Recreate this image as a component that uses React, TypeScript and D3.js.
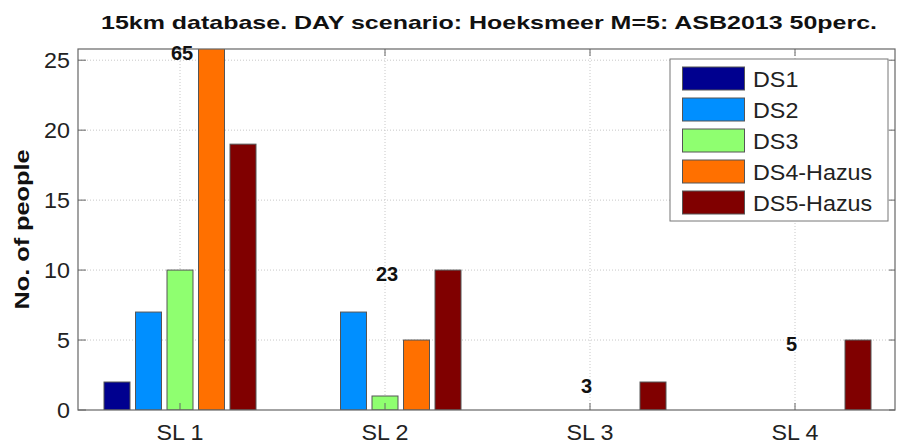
import * as d3 from 'd3';

const categories = ['SL 1', 'SL 2', 'SL 3', 'SL 4'];
const seriesNames = ['DS1', 'DS2', 'DS3', 'DS4-Hazus', 'DS5-Hazus'];
const seriesColors = ['#00008f', '#008fff', '#8fff70', '#ff7000', '#800000'];
const ds1 = [2, 0, 0, 0];
const ds2 = [7, 7, 0, 0];
const ds3 = [10, 1, 0, 0];
const ds4 = [27, 5, 0, 0];
const ds5 = [19, 10, 2, 5];
const totals = [65, 23, 3, 5];
const yTicks = [0, 5, 10, 15, 20, 25];
const yMax = 25.8;

const W = 899;
const H = 448;
const box = { left: 78, right: 895, top: 49, bottom: 410 };
const SX = 1.06; // the source font is a bit wider than Liberation Sans

export default function App() {
  const values = [ds1, ds2, ds3, ds4, ds5];

  const x = d3
    .scalePoint<string>()
    .domain(categories)
    .range([180, 795]);
  const xi = d3
    .scaleBand<string>()
    .domain(seriesNames)
    .range([-76, 76])
    .paddingInner(0.175)
    .paddingOuter(0);
  const y = d3.scaleLinear().domain([0, yMax]).range([box.bottom, box.top]);

  const font = '"Liberation Sans", Arial, sans-serif';

  return (
    <svg
      width={W}
      height={H}
      style={{ position: 'absolute', left: 0, top: 0, background: '#fff' }}
      fontFamily={font}
    >
      <defs>
        <clipPath id="plot">
          <rect x={box.left} y={box.top} width={box.right - box.left} height={box.bottom - box.top} />
        </clipPath>
      </defs>

      {/* grid */}
      {yTicks.slice(1).map((t) => (
        <line key={'gy' + t} x1={box.left} x2={box.right} y1={y(t)} y2={y(t)}
          stroke="#c8c8c8" strokeWidth={1} strokeDasharray="1,2" />
      ))}
      {categories.map((c) => (
        <line key={'gx' + c} x1={x(c)} x2={x(c)} y1={box.top} y2={box.bottom}
          stroke="#c8c8c8" strokeWidth={1} strokeDasharray="1,2" />
      ))}

      {/* bars */}
      <g clipPath="url(#plot)">
        {values.map((vals, si) =>
          vals.map((v, ci) =>
            v > 0 ? (
              <rect
                key={si + '-' + ci}
                x={(x(categories[ci]) as number) + (xi(seriesNames[si]) as number)}
                y={y(v)}
                width={xi.bandwidth()}
                height={y(0) - y(v)}
                fill={seriesColors[si]}
                stroke="#555"
                strokeWidth={1}
              />
            ) : null
          )
        )}
      </g>

      {/* axes box */}
      <rect x={box.left} y={box.top} width={box.right - box.left} height={box.bottom - box.top}
        fill="none" stroke="#666" strokeWidth={1.2} />
      {yTicks.map((t) => (
        <g key={'ty' + t}>
          <line x1={box.left} x2={box.left + 8} y1={y(t)} y2={y(t)} stroke="#666" />
          <line x1={box.right - 6} x2={box.right} y1={y(t)} y2={y(t)} stroke="#666" />
          <text
            transform={`translate(${box.left - 8},${y(t)}) scale(${SX},1)`}
            textAnchor="end"
            dominantBaseline="central"
            fontSize={22}
            fill="#222"
          >
            {t}
          </text>
        </g>
      ))}
      {categories.map((c) => (
        <g key={'tx' + c}>
          <line x1={x(c)} x2={x(c)} y1={box.bottom} y2={box.bottom - 7} stroke="#666" />
          <line x1={x(c)} x2={x(c)} y1={box.top} y2={box.top + 7} stroke="#666" />
          <text
            transform={`translate(${x(c)},${box.bottom + 30}) scale(${SX},1)`}
            textAnchor="middle"
            fontSize={22}
            fill="#222"
          >
            {c}
          </text>
        </g>
      ))}

      {/* totals */}
      {categories.map((c, ci) => {
        const m = Math.min(yMax, d3.max(values, (v) => v[ci]) as number);
        return (
          <text
            key={'tot' + c}
            transform={`translate(${(x(c) as number) - 9},${y(m) + 4})`}
            dominantBaseline="central"
            fontSize={20}
            fontWeight="bold"
            fill="#111"
          >
            {totals[ci]}
          </text>
        );
      })}

      {/* legend */}
      <g transform="translate(670,59)">
        <rect x={0} y={0} width={218} height={162} fill="#fff" stroke="#777" strokeWidth={1} />
        {seriesNames.map((s, i) => (
          <g key={s} transform={`translate(0,${8 + i * 31})`}>
            <rect x={12.5} y={0} width={62} height={23} fill={seriesColors[i]} stroke="#555" />
            <text
              transform={`translate(83,${12}) scale(${SX},1)`}
              dominantBaseline="central"
              fontSize={22}
              fill="#222"
            >
              {s}
            </text>
          </g>
        ))}
      </g>

      {/* y label */}
      <text
        transform={`translate(29,${(box.top + box.bottom) / 2}) rotate(-90)`}
        textAnchor="middle"
        fontSize={20}
        fontWeight="bold"
        fill="#111"
        textLength={160}
        lengthAdjust="spacingAndGlyphs"
      >
        No. of people
      </text>

      {/* title */}
      <text
        x={489}
        y={29}
        textAnchor="middle"
        fontSize={19}
        fontWeight="bold"
        fill="#111"
        textLength={776}
        lengthAdjust="spacingAndGlyphs"
      >
        15km database. DAY scenario: Hoeksmeer M=5: ASB2013 50perc.
      </text>
    </svg>
  );
}
